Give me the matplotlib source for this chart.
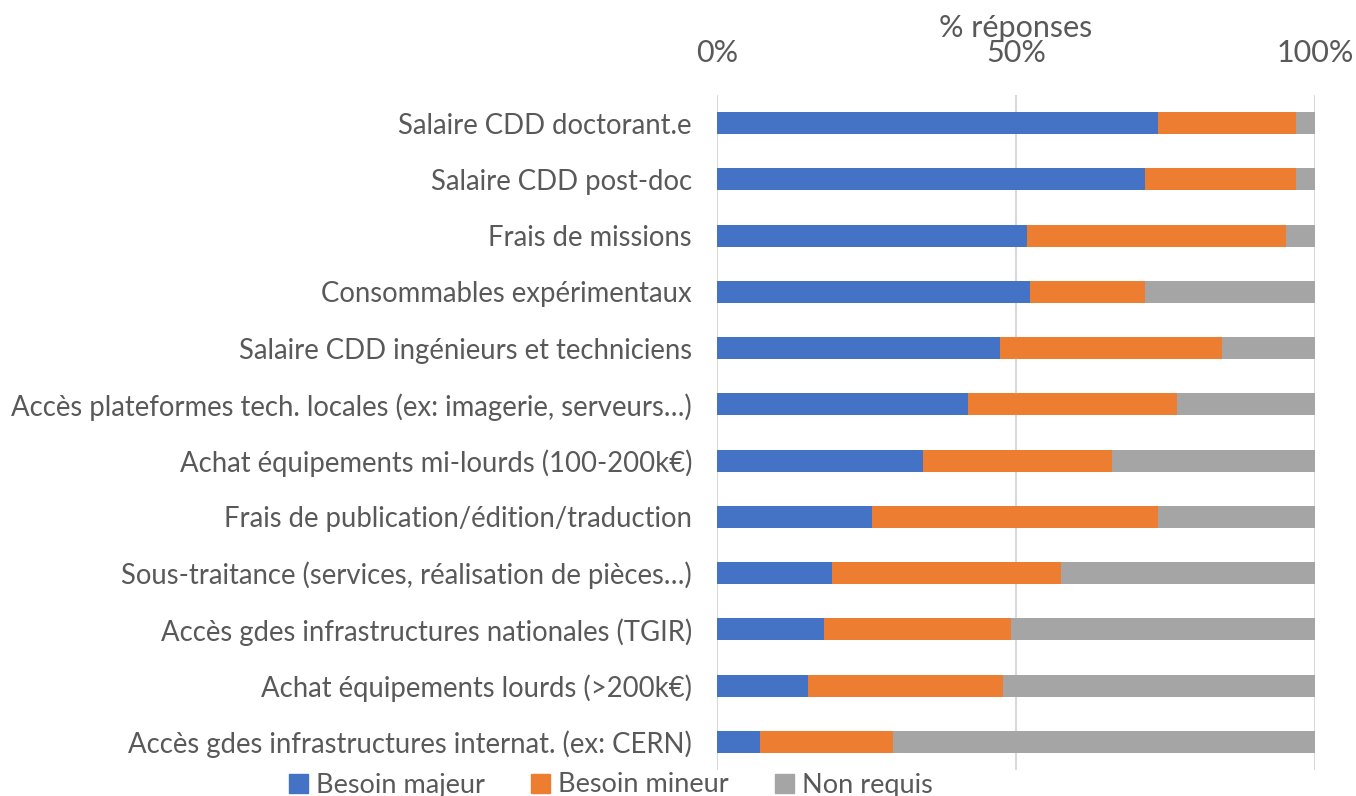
import numpy as np
import matplotlib.pyplot as plt
import matplotlib.patches as mpatches

plt.rcParams['font.family'] = ['Lato', 'DejaVu Sans']

categories = [
    "Salaire CDD doctorant.e",
    "Salaire CDD post-doc",
    "Frais de missions",
    "Consommables expérimentaux",
    "Salaire CDD ingénieurs et techniciens",
    "Accès plateformes tech. locales (ex: imagerie, serveurs…)",
    "Achat équipements mi-lourds (100-200k€)",
    "Frais de publication/édition/traduction",
    "Sous-traitance (services, réalisation de pièces…)",
    "Accès gdes infrastructures nationales (TGIR)",
    "Achat équipements lourds (>200k€)",
    "Accès gdes infrastructures internat. (ex: CERN)",
]
besoin_majeur = [73.7, 71.6, 51.8, 52.3, 47.3, 42.0, 34.4, 25.9, 19.2, 17.9, 15.2, 7.2]
besoin_mineur = [23.1, 25.2, 43.4, 19.3, 37.1, 34.9, 31.7, 47.8, 38.3, 31.3, 32.6, 22.2]
non_requis = [3.2, 3.2, 4.8, 28.4, 15.6, 23.1, 33.9, 26.3, 42.5, 50.8, 52.2, 70.6]

series = [
    ("Besoin majeur", besoin_majeur, "#4472C4"),
    ("Besoin mineur", besoin_mineur, "#ED7D31"),
    ("Non requis", non_requis, "#A5A5A5"),
]

text_color = "#595959"

fig = plt.figure(figsize=(13.56, 7.96), dpi=100)
ax = fig.add_axes([717 / 1356, 1 - 770 / 796, (1315 - 717) / 1356, (770 - 95) / 796])

y = np.arange(len(categories))
left = np.zeros(len(categories))
for name, vals, color in series:
    vals = np.array(vals)
    ax.barh(y, vals, left=left, height=0.39, color=color, label=name, zorder=3)
    left += vals

ax.set_ylim(len(categories) - 0.5, -0.5)
ax.set_xlim(0, 100)
ax.set_xticks([0, 50, 100])
ax.set_xticklabels(["0%", "50%", "100%"], fontsize=22, color=text_color)
ax.xaxis.tick_top()
ax.tick_params(axis='x', length=0, pad=20)
ax.set_yticks(y)
ax.set_yticklabels(categories, fontsize=19.8, color=text_color)
ax.tick_params(axis='y', length=0, pad=18)
ax.grid(axis='x', color='#D9D9D9', linewidth=1.5, zorder=0)
for s in ax.spines.values():
    s.set_visible(False)

fig.text(1016 / 1356, 1 - 28 / 796, "% réponses", ha='center', va='center',
         fontsize=22, color=text_color)

handles = [mpatches.Patch(color=c, label=n) for n, _, c in series]
fig.legend(handles=handles, loc='center', bbox_to_anchor=(611 / 1356, 1 - 785 / 796),
           ncol=3, frameon=False, fontsize=19.5, labelcolor=text_color,
           handlelength=0.7, handleheight=0.7, handletextpad=0.3, columnspacing=1.7)

fig.savefig("out.png", dpi=100)
